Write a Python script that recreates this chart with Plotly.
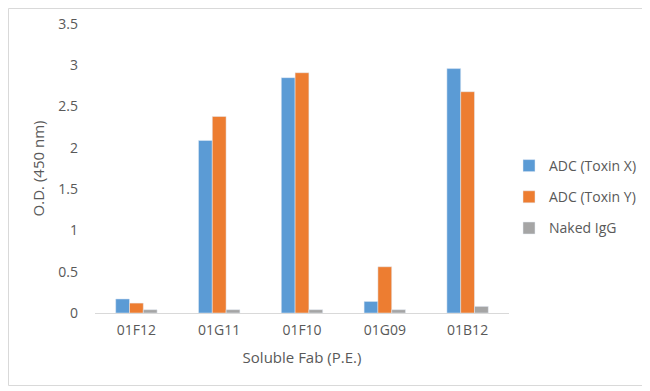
import plotly.graph_objects as go

categories = ["01F12", "01G11", "01F10", "01G09", "01B12"]
toxin_x = [0.17, 2.09, 2.85, 0.14, 2.96]
toxin_y = [0.12, 2.38, 2.91, 0.56, 2.68]
naked_igg = [0.04, 0.04, 0.04, 0.04, 0.08]

# page has an 8px body margin; figure is sized to fit the 650x391 window
OFF = 8
W, H = 650 - OFF, 391 - OFF
L, T = 95 - OFF, 24 - OFF
R = W - L - 414
B = H - (313 - OFF)

fig = go.Figure()
fig.add_bar(x=categories, y=toxin_x, name="ADC (Toxin X)", marker_color="#5B9BD5", legendgroup="a")
fig.add_bar(x=categories, y=toxin_y, name="ADC (Toxin Y)", marker_color="#ED7D31", legendgroup="b")
fig.add_bar(x=categories, y=naked_igg, name="Naked IgG", marker_color="#A5A5A5", legendgroup="c")

pw, ph = W - L - R, H - T - B
def px(x): return (x - OFF - L) / pw
def py(y): return (H - B - (y - OFF)) / ph

fig.add_shape(type="rect", xref="paper", yref="paper",
              x0=px(8.5), x1=px(644.5), y0=py(385.5), y1=(H - B - 0.5) / ph,
              line=dict(color="#D9D9D9", width=1), fillcolor="rgba(0,0,0,0)", layer="below")

font = dict(family="Open Sans, Liberation Sans, sans-serif", size=14, color="#595959")
fig.update_layout(
    width=W, height=H, margin=dict(l=L, r=R, t=T, b=B, autoexpand=False),
    paper_bgcolor="white", plot_bgcolor="white",
    barmode="group", bargap=0.5, bargroupgap=0,
    font=font,
    xaxis=dict(showline=True, linecolor="#D9D9D9", linewidth=1, ticks="", showgrid=False,
               tickfont=dict(size=14), ticklabelstandoff=4,
               title=dict(text="Soluble Fab (P.E.)", font=dict(size=15), standoff=14)),
    yaxis=dict(range=[0, 3.5], dtick=0.5, showgrid=False, zeroline=False, showline=False,
               tickformat="~g", ticks="", tickfont=dict(size=14), ticklabelstandoff=16,
               title=dict(text="O.D. (450 nm)", font=dict(size=15), standoff=10)),
    legend=dict(x=px(509), y=py(150), xanchor="left", yanchor="top", bgcolor="rgba(0,0,0,0)",
                font=dict(size=14), traceorder="grouped", tracegroupgap=10),
    showlegend=True,
)
fig.write_html("out.html")
